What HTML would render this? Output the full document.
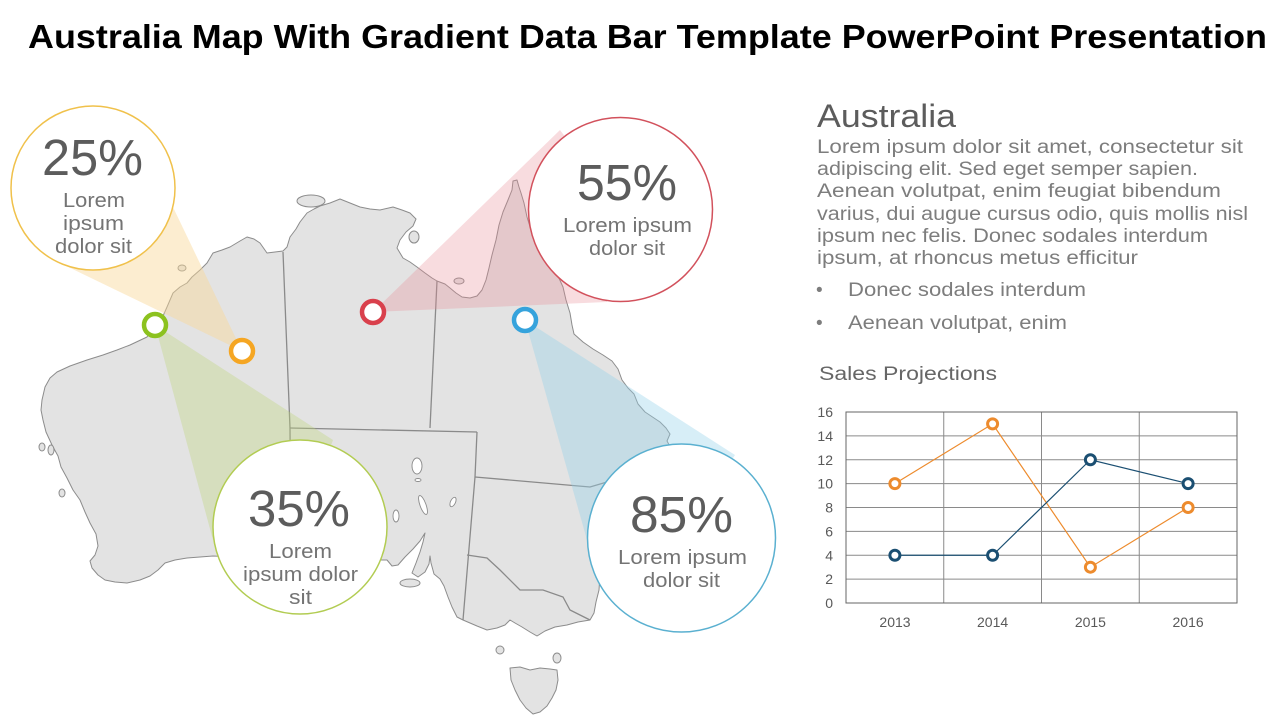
<!DOCTYPE html>
<html><head><meta charset="utf-8"><style>
html,body{margin:0;padding:0;background:#fff;}
svg{display:block;}
text{font-family:"Liberation Sans",Arial,sans-serif;}
</style></head><body>
<svg width="1280" height="720" viewBox="0 0 1280 720" xmlns="http://www.w3.org/2000/svg">
<rect width="1280" height="720" fill="#fff"/>
<text x="28" y="48" font-size="33" font-weight="bold" fill="#000" textLength="1239" lengthAdjust="spacingAndGlyphs">Australia Map With Gradient Data Bar Template PowerPoint Presentation</text>

<!-- Map -->
<g fill="#e3e3e3" stroke="#8c8c8c" stroke-width="1" stroke-linejoin="round">
<path d="M45,387 L50,378 57,372 70,366 87,360 103,355 117,350 130,345 147,337 155,325 163,316 167,307 173,293 180,287 187,283 192,277 200,270 207,263 213,253 222,250 230,247 240,241 247,237 254,239 260,243 267,253 275,252 283,251 287,247 290,237 296,229 300,222 307,213 314,209 320,206 330,203 340,199 350,203 360,207 370,209 380,210 393,207 402,210 410,213 416,219 413,226 406,232 400,240 397,248 403,258 410,262 417,267 425,273 432,278 437,281 445,284 450,288 456,293 462,297 470,298 477,296 482,290 486,280 489,268 492,255 496,240 499,225 503,212 508,200 512,190 513,181 517,180 519,187 521,193 524,203 527,217 531,230 537,241 545,254 552,265 558,276 563,287 566,300 570,313 572,325 574,334 583,342 593,349 603,355 612,361 618,369 622,380 628,388 634,394 638,404 645,412 654,418 660,422 666,428 670,434 667,441 672,450 668,470 655,488 640,500 625,515 612,535 605,555 600,575 599,590 596,602 594,613 590,620 578,622 567,625 555,627 545,631 537,636 530,632 522,627 515,623 510,620 505,625 497,628 487,630 477,626 470,623 463,620 457,617 452,607 448,597 444,586 440,579 434,574 431,563 430,556 429,564 425,572 418,577 412,573 416,563 420,552 423,542 425,533 420,541 413,549 405,557 398,565 392,566 387,560 300,560 213,556 200,557 187,558 175,560 165,563 158,570 150,576 140,580 127,583 115,582 105,580 98,575 92,568 90,561 95,555 98,546 96,534 90,523 85,512 80,500 73,490 67,478 61,467 58,456 52,445 46,432 43,420 41,410 42,400 Z"/>
<path d="M510,668 L520,667 530,670 540,668 550,669 557,670 558,680 556,690 552,698 547,706 540,712 533,714 526,708 520,700 515,690 511,680 Z"/>
<ellipse cx="311" cy="201" rx="14" ry="6"/>
<ellipse cx="414" cy="237" rx="5" ry="6"/>
<ellipse cx="459" cy="281" rx="5" ry="3"/>
<ellipse cx="182" cy="268" rx="4" ry="3"/>
<ellipse cx="500" cy="650" rx="4" ry="4"/>
<ellipse cx="557" cy="658" rx="4" ry="5"/>
<ellipse cx="410" cy="583" rx="10" ry="4"/>
<ellipse cx="42" cy="447" rx="3" ry="4"/>
<ellipse cx="51" cy="450" rx="3" ry="5"/>
<ellipse cx="62" cy="493" rx="3" ry="4"/>
</g>
<g fill="#fff" stroke="#8c8c8c" stroke-width="0.9">
<ellipse cx="417" cy="466" rx="5" ry="8"/>
<ellipse cx="418" cy="480" rx="3" ry="1.5"/>
<ellipse cx="423" cy="505" rx="3" ry="10" transform="rotate(-20 423 505)"/>
<ellipse cx="453" cy="502" rx="2.5" ry="5" transform="rotate(25 453 502)"/>
<ellipse cx="396" cy="516" rx="3" ry="6"/>
</g>
<g fill="none" stroke="#8a8a8a" stroke-width="1.3">
<polyline points="283,252 290,428 291,560"/>
<polyline points="290,428 477,432"/>
<polyline points="437,281 430,428"/>
<polyline points="477,432 475,477 463,620"/>
<polyline points="475,477 590,487 607,482"/>
<polyline points="467,555 487,558 500,570 520,590 543,590 563,597 570,610 590,620"/>
</g>

<!-- Cones -->
<polygon points="242,351 60,263 93,188 148,155" fill="rgb(248,215,150)" fill-opacity="0.45"/>
<polygon points="155,325 213,540 300,527 333,440" fill="rgb(190,212,120)" fill-opacity="0.35"/>
<polygon points="373,312 560,130 620,209 607,302" fill="rgb(231,140,150)" fill-opacity="0.3"/>
<polygon points="525,320 587,540 681,538 735,455" fill="rgb(150,210,235)" fill-opacity="0.38"/>

<!-- Circles -->
<circle cx="93" cy="188" r="82" fill="#fff" stroke="#f0c14b" stroke-width="1.5"/>
<circle cx="620.5" cy="209.5" r="92" fill="#fff" stroke="#d2515c" stroke-width="1.5"/>
<circle cx="300" cy="527" r="87" fill="#fff" stroke="#b2cc52" stroke-width="1.5"/>
<circle cx="681.5" cy="538" r="94" fill="#fff" stroke="#5ab0d0" stroke-width="1.5"/>

<g fill="#5c5c5c">
<text x="42" y="175" font-size="51" textLength="101" lengthAdjust="spacingAndGlyphs">25%</text>
<text x="577" y="200" font-size="51" textLength="100" lengthAdjust="spacingAndGlyphs">55%</text>
<text x="248" y="526" font-size="51" textLength="102" lengthAdjust="spacingAndGlyphs">35%</text>
<text x="630" y="532" font-size="51" textLength="103" lengthAdjust="spacingAndGlyphs">85%</text>
</g>
<g fill="#747474" font-size="20">
<text x="63" y="207" textLength="62" lengthAdjust="spacingAndGlyphs">Lorem</text>
<text x="63" y="230" textLength="61" lengthAdjust="spacingAndGlyphs">ipsum</text>
<text x="55" y="253" textLength="77" lengthAdjust="spacingAndGlyphs">dolor sit</text>
<text x="563" y="232" textLength="129" lengthAdjust="spacingAndGlyphs">Lorem ipsum</text>
<text x="589" y="255" textLength="76" lengthAdjust="spacingAndGlyphs">dolor sit</text>
<text x="269" y="558" textLength="63" lengthAdjust="spacingAndGlyphs">Lorem</text>
<text x="243" y="581" textLength="115" lengthAdjust="spacingAndGlyphs">ipsum dolor</text>
<text x="289" y="604" textLength="23" lengthAdjust="spacingAndGlyphs">sit</text>
<text x="618" y="564" textLength="129" lengthAdjust="spacingAndGlyphs">Lorem ipsum</text>
<text x="643" y="587" textLength="77" lengthAdjust="spacingAndGlyphs">dolor sit</text>
</g>

<!-- Dots -->
<g fill="#fff" stroke-width="4.5">
<circle cx="155" cy="325" r="11" stroke="#8cc21f"/>
<circle cx="242" cy="351" r="11" stroke="#f5a623"/>
<circle cx="373" cy="312" r="11" stroke="#d9404c"/>
<circle cx="525" cy="320" r="11" stroke="#36a3dc"/>
</g>

<!-- Right text -->
<text x="817" y="127" font-size="32" fill="#5c5c5c" textLength="139" lengthAdjust="spacingAndGlyphs">Australia</text>
<g fill="#7d7d7d" font-size="19">
<text x="817" y="153" textLength="426" lengthAdjust="spacingAndGlyphs">Lorem ipsum dolor sit amet, consectetur  sit</text>
<text x="817" y="175" textLength="381" lengthAdjust="spacingAndGlyphs">adipiscing elit. Sed eget semper sapien.</text>
<text x="817" y="197" textLength="404" lengthAdjust="spacingAndGlyphs">Aenean volutpat, enim feugiat bibendum</text>
<text x="817" y="220" textLength="431" lengthAdjust="spacingAndGlyphs">varius, dui augue cursus odio, quis mollis nisl</text>
<text x="817" y="242" textLength="391" lengthAdjust="spacingAndGlyphs">ipsum nec felis. Donec sodales interdum</text>
<text x="817" y="264" textLength="321" lengthAdjust="spacingAndGlyphs">ipsum, at rhoncus metus efficitur</text>
<text x="816" y="296">•</text>
<text x="848" y="296" textLength="238" lengthAdjust="spacingAndGlyphs">Donec sodales interdum</text>
<text x="816" y="329">•</text>
<text x="848" y="329" textLength="219" lengthAdjust="spacingAndGlyphs">Aenean volutpat, enim</text>
</g>
<text x="819" y="380" font-size="19" fill="#666" textLength="178" lengthAdjust="spacingAndGlyphs">Sales Projections</text>

<!-- Chart -->
<g stroke="#8a8a8a" stroke-width="1" fill="none">
<line x1="846" y1="435.9" x2="1237" y2="435.9"/>
<line x1="846" y1="459.75" x2="1237" y2="459.75"/>
<line x1="846" y1="483.6" x2="1237" y2="483.6"/>
<line x1="846" y1="507.5" x2="1237" y2="507.5"/>
<line x1="846" y1="531.4" x2="1237" y2="531.4"/>
<line x1="846" y1="555.25" x2="1237" y2="555.25"/>
<line x1="846" y1="579.1" x2="1237" y2="579.1"/>
<line x1="943.75" y1="412" x2="943.75" y2="603"/>
<line x1="1041.5" y1="412" x2="1041.5" y2="603"/>
<line x1="1139.25" y1="412" x2="1139.25" y2="603"/>
<rect x="846" y="412" width="391" height="191" stroke="#666"/>
</g>
<g font-size="14" fill="#595959" text-anchor="end">
<text x="833" y="417">16</text>
<text x="833" y="440.9">14</text>
<text x="833" y="464.75">12</text>
<text x="833" y="488.6">10</text>
<text x="833" y="512.5">8</text>
<text x="833" y="536.4">6</text>
<text x="833" y="560.25">4</text>
<text x="833" y="584.1">2</text>
<text x="833" y="608">0</text>
</g>
<g font-size="14" fill="#595959" text-anchor="middle">
<text x="895" y="627">2013</text>
<text x="992.6" y="627">2014</text>
<text x="1090.4" y="627">2015</text>
<text x="1188.1" y="627">2016</text>
</g>
<polyline points="894.9,483.6 992.6,423.9 1090.4,567.2 1188.1,507.5" fill="none" stroke="#ed8b2d" stroke-width="1.2"/>
<polyline points="894.9,555.25 992.6,555.25 1090.4,459.75 1188.1,483.6" fill="none" stroke="#1b4f72" stroke-width="1.2"/>
<g fill="#fff" stroke-width="3">
<circle cx="894.9" cy="483.6" r="5" stroke="#ed8b2d"/>
<circle cx="992.6" cy="423.9" r="5" stroke="#ed8b2d"/>
<circle cx="1090.4" cy="567.2" r="5" stroke="#ed8b2d"/>
<circle cx="1188.1" cy="507.5" r="5" stroke="#ed8b2d"/>
<circle cx="894.9" cy="555.25" r="5" stroke="#1b4f72"/>
<circle cx="992.6" cy="555.25" r="5" stroke="#1b4f72"/>
<circle cx="1090.4" cy="459.75" r="5" stroke="#1b4f72"/>
<circle cx="1188.1" cy="483.6" r="5" stroke="#1b4f72"/>
</g>
</svg>
</body></html>
